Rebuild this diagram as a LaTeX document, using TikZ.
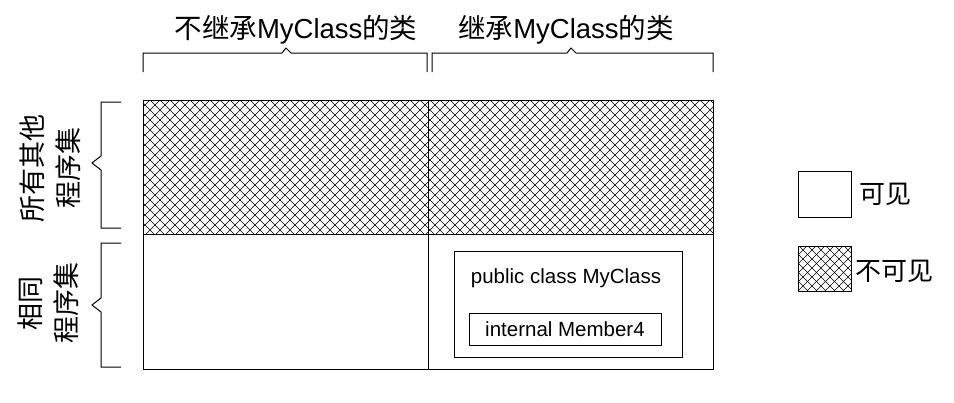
\documentclass[tikz,border=0pt]{standalone}
\usepackage{fontspec}
\setmainfont{Liberation Sans}
\newfontfamily\cjk{Noto Sans CJK SC}
\tikzset{
  cell/.style={draw, line width=1.1pt, inner sep=0pt, anchor=north west},
  box/.style={draw, line width=1pt, inner sep=0pt},
  hatchline/.style={line width=0.55pt},
  bracket/.style={line width=1pt},
  title/.style={font=\fontsize{27.5}{31}\selectfont, inner sep=0pt},
  sidetext/.style={font=\cjk\fontsize{27}{36}\selectfont, rotate=90, align=center, inner sep=0pt},
  legtext/.style={font=\cjk\fontsize{26}{30}\selectfont, anchor=west, inner sep=0pt},
  code/.style={font=\fontsize{20.5}{24}\selectfont, inner sep=0pt}
}
\newcommand\hatchfill[5]{%
  \begin{scope}
    \clip (#1,#2) rectangle (#3,#4);
    \foreach \c in {0,#5,...,1400} {
      \draw[hatchline] (\c-#2,#2) -- (\c-#4,#4);
      \draw[hatchline] (\c-500+#2,#2) -- (\c-500+#4,#4);
    }
  \end{scope}}
\begin{document}
\begin{tikzpicture}[x=1pt,y=-1pt]
\useasboundingbox (0,0) rectangle (954,402);
% hatching
\hatchfill{143}{100}{713}{234}{10}
\hatchfill{798}{246}{851}{291}{9}
% cells
\node[cell, minimum width=285pt, minimum height=134pt] (c11) at (143,100) {};
\node[cell, minimum width=285pt, minimum height=134pt] (c12) at (428,100) {};
\node[cell, minimum width=285pt, minimum height=135pt] (c21) at (143,234) {};
\node[cell, minimum width=285pt, minimum height=135pt] (c22) at (428,234) {};
% inner boxes
\node[box, minimum width=228pt, minimum height=106pt] (outer) at (568,304) {};
\node[box, minimum width=192pt, minimum height=32pt] (inner) at (565,329) {};
\node[code] (pub) at (566,278) {public class MyClass};
\node[code] (mem) at (565,329) {internal Member4};
% top brackets
\coordinate (tl1) at (143,72); \coordinate (tl2) at (427,72);
\coordinate (tr1) at (432,72); \coordinate (tr2) at (713,72);
\draw[bracket] (tl1) -- ++(0,-19) -- (282,53) -- (286,48) -- (291,53) -- (427,53) -- (tl2);
\draw[bracket] (tr1) -- ++(0,-19) -- (567,53) -- (571,48) -- (576,53) -- (713,53) -- (tr2);
\node[title] (t1) at (296,30) {{\cjk 不继承}MyClass{\cjk 的类}};
\node[title] (t2) at (566,30) {{\cjk 继承}MyClass{\cjk 的类}};
% side brackets
\coordinate (s1a) at (121,102); \coordinate (s1b) at (121,228);
\coordinate (s2a) at (121,243); \coordinate (s2b) at (121,367);
\draw[bracket] (s1a) -- (101,102) -- (101,156) -- (92,163) -- (101,170) -- (101,228) -- (s1b);
\draw[bracket] (s2a) -- (101,243) -- (101,298) -- (92,305) -- (101,312) -- (101,367) -- (s2b);
\node[sidetext] (l1) at (50,168) {所有其他\\程序集};
\node[sidetext] (l2) at (48,303) {相同\\程序集};
% legend
\node[box, minimum width=53pt, minimum height=46pt, anchor=north west] (legw) at (798,171) {};
\node[box, minimum width=53pt, minimum height=45pt, anchor=north west] (legh) at (798,246) {};
\node[legtext] (lw) at (859,194) {可见};
\node[legtext] (lh) at (855,271) {不可见};
\end{tikzpicture}
\end{document}
